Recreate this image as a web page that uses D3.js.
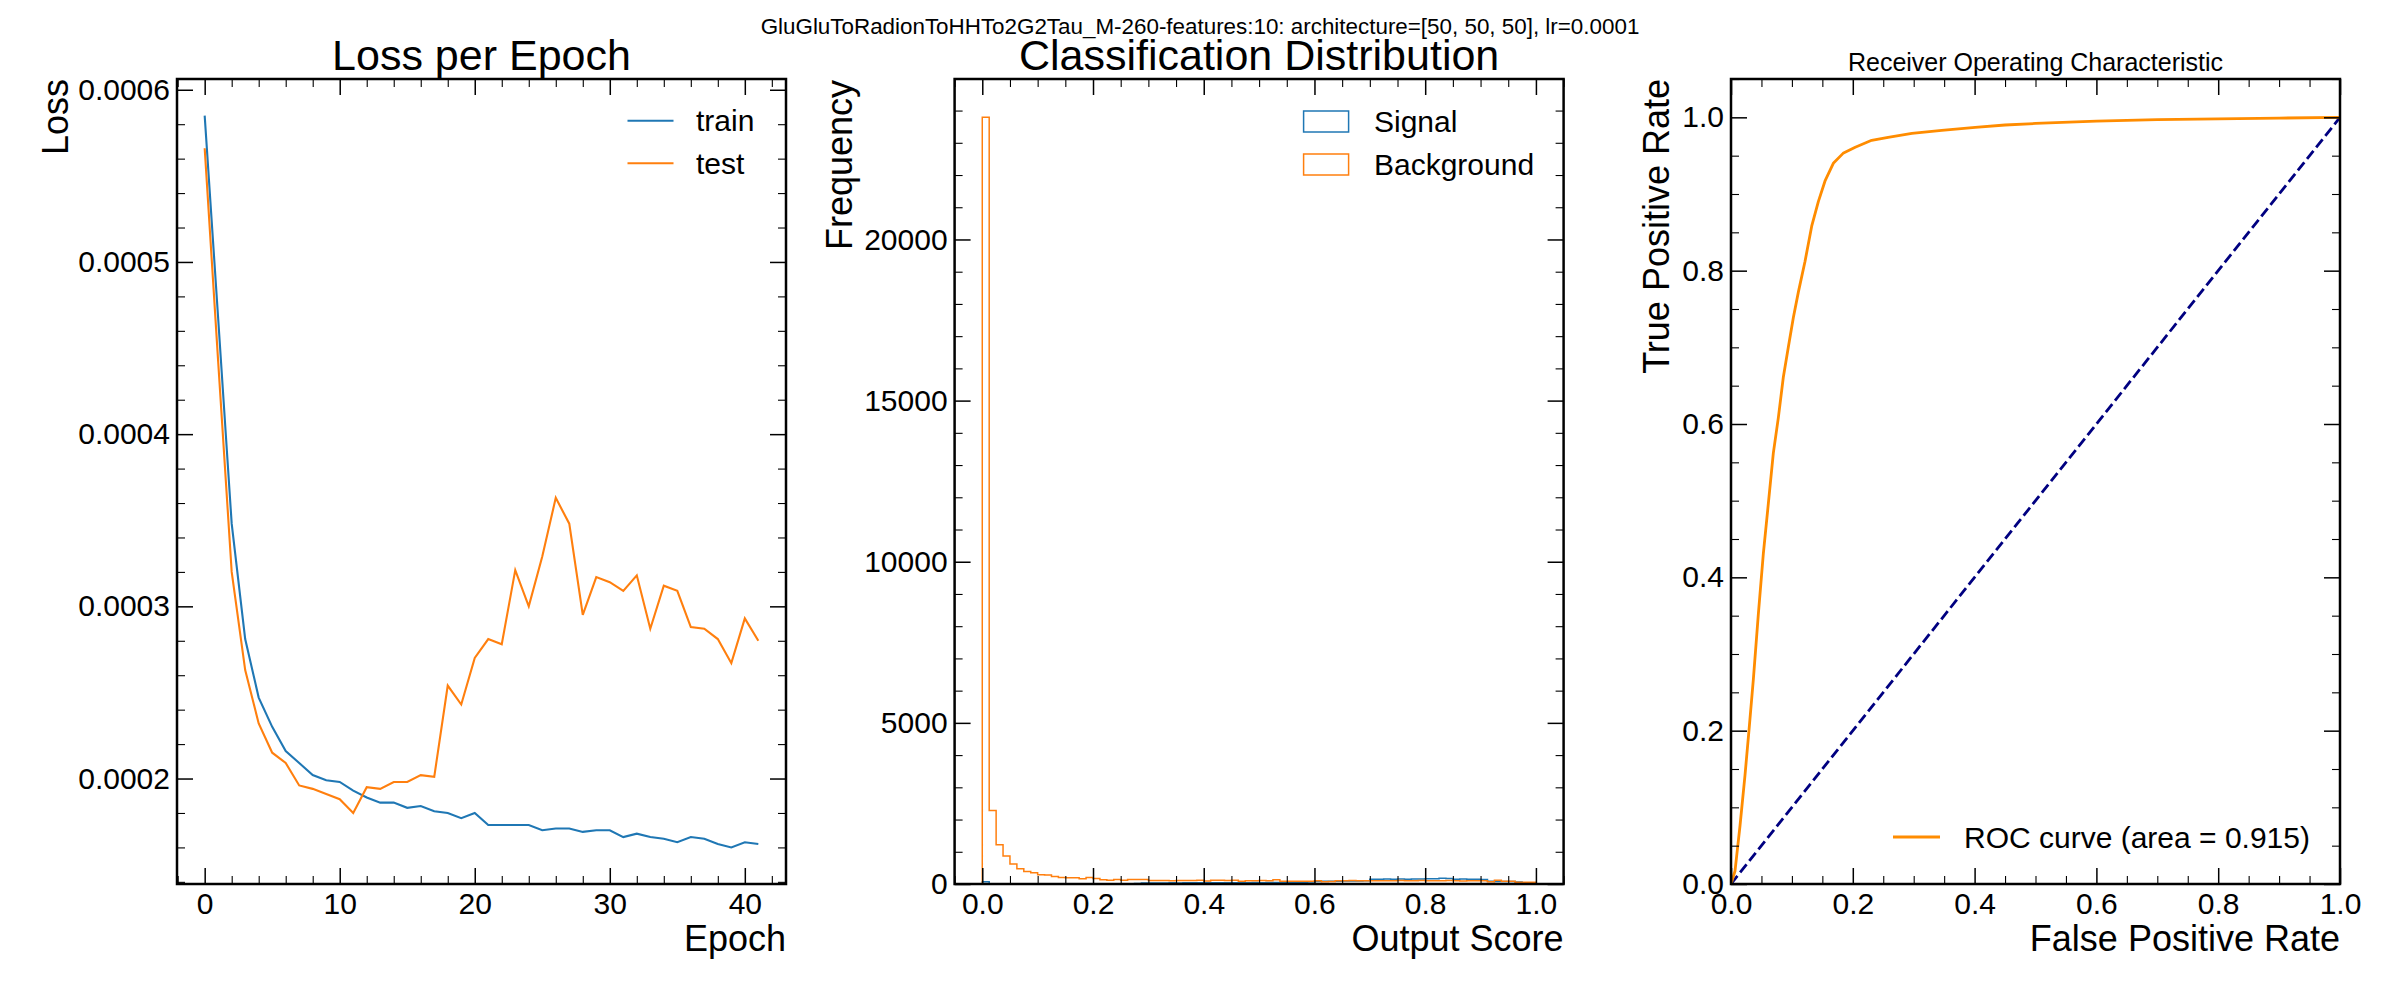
<!DOCTYPE html>
<html>
<head>
<meta charset="utf-8">
<script src="https://cdn.jsdelivr.net/npm/d3@7"></script>
<style>
  body { margin: 0; background: #fff; }
  svg { font-family: "Liberation Sans", Arial, Helvetica, sans-serif; }
</style>
</head>
<body>
<div id="chart"></div>
<script>
// ---- data ----
const suptitle = "GluGluToRadionToHHTo2G2Tau_M-260-features:10: architecture=[50, 50, 50], lr=0.0001";

// loss per epoch (epochs 0..41)
const trainLoss = [0.000585, 0.000467, 0.000348, 0.000281, 0.000247, 0.000230, 0.000216, 0.000209, 0.000202, 0.000199,
  0.000198, 0.000193, 0.000189, 0.000186, 0.000186, 0.000183, 0.000184, 0.000181, 0.000180, 0.000177,
  0.000180, 0.000173, 0.000173, 0.000173, 0.000173, 0.000170, 0.000171, 0.000171, 0.000169, 0.000170,
  0.000170, 0.000166, 0.000168, 0.000166, 0.000165, 0.000163, 0.000166, 0.000165, 0.000162, 0.000160,
  0.000163, 0.000162];
const testLoss = [0.000566, 0.000442, 0.000320, 0.000263, 0.000232, 0.000215, 0.000209, 0.000196, 0.000194, 0.000191,
  0.000188, 0.000180, 0.000195, 0.000194, 0.000198, 0.000198, 0.000202, 0.000201, 0.000254, 0.000243,
  0.000270, 0.000281, 0.000278, 0.000321, 0.000300, 0.000329, 0.000363, 0.000348, 0.000295, 0.000317,
  0.000314, 0.000309, 0.000318, 0.000287, 0.000312, 0.000309, 0.000288, 0.000287, 0.000281, 0.000267,
  0.000293, 0.000280];

// classification histogram, 80 bins over [0, 1]
const nBins = 80;
const signalCounts = [70, 6, 4, 4, 3, 3, 3, 3, 4, 4,
  4, 4, 5, 5, 5, 6, 6, 6, 7, 8,
  9, 10, 12, 30, 28, 32, 34, 35, 34, 36,
  37, 36, 38, 38, 40, 39, 41, 40, 42, 43,
  40, 44, 48, 50, 52, 55, 58, 60, 80, 85,
  84, 88, 90, 92, 95, 100, 150, 148, 152, 150,
  155, 150, 158, 155, 160, 165, 175, 172, 150, 152,
  148, 150, 140, 82, 80, 78, 75, 60, 8, 2];
const backgroundCounts = [23790, 2280, 1220, 870, 620, 475, 390, 350, 290, 280,
  230, 200, 195, 195, 165, 200, 170, 135, 115, 140,
  115, 140, 140, 140, 105, 105, 105, 100, 105, 105,
  105, 115, 90, 115, 115, 110, 115, 85, 100, 100,
  105, 103, 134, 82, 85, 82, 84, 82, 103, 72,
  75, 103, 100, 105, 100, 103, 100, 98, 103, 100,
  105, 100, 102, 110, 98, 100, 103, 105, 100, 95,
  100, 100, 103, 72, 113, 82, 82, 52, 52, 52];

// ROC curve
const rocFpr = [0, 0.0066, 0.0148, 0.023, 0.0296, 0.0367, 0.0449, 0.0531, 0.0613, 0.0695,
  0.0777, 0.0859, 0.0941, 0.1024, 0.1106, 0.1215, 0.1325, 0.1434, 0.1544, 0.168,
  0.184, 0.204, 0.231, 0.258, 0.297, 0.346, 0.401, 0.45, 0.5, 0.6, 0.7, 0.8, 0.9, 1.0];
const rocTpr = [0, 0.017, 0.076, 0.142, 0.201, 0.267, 0.352, 0.431, 0.496, 0.562,
  0.608, 0.661, 0.700, 0.739, 0.772, 0.812, 0.858, 0.890, 0.917, 0.940,
  0.953, 0.961, 0.970, 0.974, 0.979, 0.983, 0.987, 0.990, 0.992, 0.995, 0.997, 0.998, 0.999, 1.0];
const rocArea = 0.915;

// ---- layout ----
const width = 2400, height = 1000;
const panelW = 609, panelH = 805, panelTop = 79;
const panelLefts = [177, 954.6, 1731];
const blue = "#1f77b4", orange = "#ff7f0e";

const svg = d3.select("#chart").append("svg")
  .attr("width", width)
  .attr("height", height)
  .style("background", "#fff");

svg.append("text")
  .attr("x", 1200).attr("y", 34)
  .attr("text-anchor", "middle")
  .attr("font-size", "22.4px")
  .text(suptitle);

// minor tick values between lo and hi, skipping the majors
function minorTicks(lo, hi, step, majors) {
  const out = [];
  for (let k = Math.ceil(lo / step - 1e-6); k * step <= hi + step * 1e-6; k++) {
    const v = k * step;
    if (!majors.some(m => Math.abs(m - v) < step * 1e-3)) out.push(v);
  }
  return out;
}

// inward ticks on all four sides, labels on bottom/left, heavy frame
function drawAxes(g, x, y, o) {
  const w = panelW, h = panelH;
  const xd = x.domain(), yd = y.domain();
  const xMin = minorTicks(xd[0], xd[1], o.xStep, o.xMajor);
  const yMin = minorTicks(yd[0], yd[1], o.yStep, o.yMajor);

  const sides = [
    [d3.axisBottom, x, `translate(0,${h})`, o.xMajor, xMin, o.xFormat, 9],
    [d3.axisTop, x, null, o.xMajor, xMin, null, 0],
    [d3.axisLeft, y, null, o.yMajor, yMin, o.yFormat, 7],
    [d3.axisRight, y, `translate(${w},0)`, o.yMajor, yMin, null, 0]
  ];
  sides.forEach(([axisFn, scale, tr, major, minor, fmt, pad]) => {
    const gMaj = g.append("g").attr("transform", tr)
      .call(axisFn(scale).tickValues(major).tickSize(-16).tickPadding(pad).tickFormat(fmt || (() => "")));
    const gMin = g.append("g").attr("transform", tr)
      .call(axisFn(scale).tickValues(minor).tickSize(-8).tickPadding(0).tickFormat(() => ""));
    [gMaj, gMin].forEach(s => {
      s.attr("font-size", null).attr("font-family", null);
      s.select(".domain").remove();
    });
    gMaj.selectAll(".tick line").attr("stroke", "#000").attr("stroke-width", 1.5);
    gMin.selectAll(".tick line").attr("stroke", "#000").attr("stroke-width", 1.1);
    gMaj.selectAll(".tick text").attr("fill", "#000").style("font-size", "30px");
  });

  g.append("rect")
    .attr("width", w).attr("height", h)
    .attr("fill", "none")
    .attr("stroke", "#000")
    .attr("stroke-width", 2.5);
}

function addClip(id) {
  svg.append("defs").append("clipPath").attr("id", id)
    .append("rect").attr("width", panelW).attr("height", panelH);
}

// ================= Panel 1: Loss per Epoch =================
{
  const g = svg.append("g").attr("transform", `translate(${panelLefts[0]},${panelTop})`);
  const epochs = trainLoss.map((_, i) => i);
  const all = trainLoss.concat(testLoss);
  const lo = d3.min(all), hi = d3.max(all), pad = (hi - lo) * 0.05;
  const xPad = (d3.max(epochs) - d3.min(epochs)) * 0.05;

  const x = d3.scaleLinear().domain([-xPad, d3.max(epochs) + xPad]).range([0, panelW]);
  const y = d3.scaleLinear().domain([lo - pad, hi + pad]).range([panelH, 0]);

  addClip("clip-loss");
  const line = d3.line().x((d, i) => x(epochs[i])).y(d => y(d));
  const plot = g.append("g").attr("clip-path", "url(#clip-loss)");
  plot.append("path").datum(trainLoss)
    .attr("d", line).attr("fill", "none").attr("stroke", blue).attr("stroke-width", 2.1);
  plot.append("path").datum(testLoss)
    .attr("d", line).attr("fill", "none").attr("stroke", orange).attr("stroke-width", 2.1);

  drawAxes(g, x, y, {
    xMajor: [0, 10, 20, 30, 40], xStep: 2, xFormat: d3.format("d"),
    yMajor: [0.0002, 0.0003, 0.0004, 0.0005, 0.0006], yStep: 0.00002, yFormat: d3.format(".4f")
  });

  g.append("text").attr("x", panelW / 2).attr("y", -9)
    .attr("text-anchor", "middle").attr("font-size", "43px").text("Loss per Epoch");
  g.append("text").attr("x", panelW).attr("y", 872)
    .attr("text-anchor", "end").attr("font-size", "36px").text("Epoch");
  g.append("text").attr("transform", `translate(-109,0) rotate(-90)`)
    .attr("text-anchor", "end").attr("font-size", "36px").text("Loss");

  // legend
  const leg = [["train", blue], ["test", orange]];
  leg.forEach(([name, c], i) => {
    const ly = 41.7 + i * 42.6;
    g.append("line").attr("x1", 450.5).attr("x2", 496.5).attr("y1", ly).attr("y2", ly)
      .attr("stroke", c).attr("stroke-width", 2.1);
    g.append("text").attr("x", 519).attr("y", ly + 10.5).attr("font-size", "30px").text(name);
  });
}

// ================= Panel 2: Classification Distribution =================
{
  const g = svg.append("g").attr("transform", `translate(${panelLefts[1]},${panelTop})`);
  const edges = d3.range(nBins + 1).map(i => i / nBins);
  const maxCount = d3.max(signalCounts.concat(backgroundCounts));

  const x = d3.scaleLinear().domain([-0.05, 1.05]).range([0, panelW]);
  const y = d3.scaleLinear().domain([0, maxCount * 1.05]).range([panelH, 0]);

  addClip("clip-hist");
  const plot = g.append("g").attr("clip-path", "url(#clip-hist)");
  function stepPoints(counts) {
    const pts = [[edges[0], 0]];
    counts.forEach((c, i) => { pts.push([edges[i], c]); pts.push([edges[i + 1], c]); });
    pts.push([edges[nBins], 0]);
    return pts;
  }
  const stepLine = d3.line().x(d => x(d[0])).y(d => y(d[1]));
  plot.append("path").datum(stepPoints(signalCounts))
    .attr("d", stepLine).attr("fill", "none").attr("stroke", blue).attr("stroke-width", 1.5);
  plot.append("path").datum(stepPoints(backgroundCounts))
    .attr("d", stepLine).attr("fill", "none").attr("stroke", orange).attr("stroke-width", 1.5);

  drawAxes(g, x, y, {
    xMajor: [0, 0.2, 0.4, 0.6, 0.8, 1.0], xStep: 0.05, xFormat: d3.format(".1f"),
    yMajor: [0, 5000, 10000, 15000, 20000], yStep: 1000, yFormat: d3.format("d")
  });

  g.append("text").attr("x", panelW / 2).attr("y", -9)
    .attr("text-anchor", "middle").attr("font-size", "43px").text("Classification Distribution");
  g.append("text").attr("x", panelW).attr("y", 872)
    .attr("text-anchor", "end").attr("font-size", "36px").text("Output Score");
  g.append("text").attr("transform", `translate(-103,1) rotate(-90)`)
    .attr("text-anchor", "end").attr("font-size", "36px").text("Frequency");

  const leg = [["Signal", blue], ["Background", orange]];
  leg.forEach(([name, c], i) => {
    const ly = 32 + i * 43;
    g.append("rect").attr("x", 349).attr("y", ly).attr("width", 45).attr("height", 21)
      .attr("fill", "none").attr("stroke", c).attr("stroke-width", 1.5);
    g.append("text").attr("x", 419.4).attr("y", ly + 20.7).attr("font-size", "30px").text(name);
  });
}

// ================= Panel 3: ROC =================
{
  const g = svg.append("g").attr("transform", `translate(${panelLefts[2]},${panelTop})`);
  const x = d3.scaleLinear().domain([0, 1]).range([0, panelW]);
  const y = d3.scaleLinear().domain([0, 1.05]).range([panelH, 0]);

  addClip("clip-roc");
  const plot = g.append("g").attr("clip-path", "url(#clip-roc)");
  const rocLine = d3.line().x(d => x(d[0])).y(d => y(d[1]));
  plot.append("path").datum([[0, 0], [1, 1]])
    .attr("d", rocLine).attr("fill", "none").attr("stroke", "navy")
    .attr("stroke-width", 2.8).attr("stroke-dasharray", "10.3,4.4");
  plot.append("path").datum(rocFpr.map((f, i) => [f, rocTpr[i]]))
    .attr("d", rocLine).attr("fill", "none").attr("stroke", "darkorange")
    .attr("stroke-width", 2.8).attr("stroke-linejoin", "round");

  drawAxes(g, x, y, {
    xMajor: [0, 0.2, 0.4, 0.6, 0.8, 1.0], xStep: 0.05, xFormat: d3.format(".1f"),
    yMajor: [0, 0.2, 0.4, 0.6, 0.8, 1.0], yStep: 0.05, yFormat: d3.format(".1f")
  });

  g.append("text").attr("x", panelW / 2).attr("y", -8)
    .attr("text-anchor", "middle").attr("font-size", "25px").text("Receiver Operating Characteristic");
  g.append("text").attr("x", panelW).attr("y", 872)
    .attr("text-anchor", "end").attr("font-size", "36px").text("False Positive Rate");
  g.append("text").attr("transform", `translate(-62,0) rotate(-90)`)
    .attr("text-anchor", "end").attr("font-size", "36px").text("True Positive Rate");

  g.append("line").attr("x1", 162).attr("x2", 209).attr("y1", 758).attr("y2", 758)
    .attr("stroke", "darkorange").attr("stroke-width", 2.8);
  g.append("text").attr("x", 233).attr("y", 769).attr("font-size", "30px")
    .text(`ROC curve (area = ${rocArea.toFixed(3)})`);
}
</script>
</body>
</html>
